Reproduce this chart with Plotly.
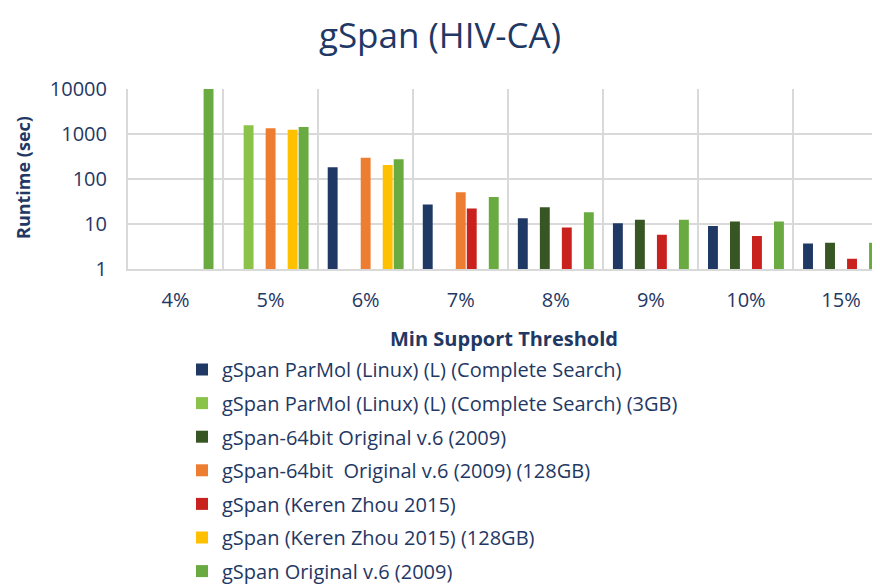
import plotly.graph_objects as go

categories = ["4%", "5%", "6%", "7%", "8%", "9%", "10%", "15%"]

series_names = [
    "gSpan ParMol (Linux) (L) (Complete Search)",
    "gSpan ParMol (Linux) (L) (Complete Search) (3GB)",
    "gSpan-64bit Original v.6 (2009)",
    "gSpan-64bit  Original v.6 (2009) (128GB)",
    "gSpan (Keren Zhou 2015)",
    "gSpan (Keren Zhou 2015) (128GB)",
    "gSpan Original v.6 (2009)",
]

parmol = [None, None, 182, 27, 13.4, 10.4, 9.0, 3.7]
parmol_3gb = [None, 1560, None, None, None, None, None, None]
gspan64 = [None, None, None, None, 23.5, 12.5, 11.3, 3.85]
gspan64_128 = [None, 1350, 297, 51, None, None, None, None]
zhou = [None, None, None, 22, 8.4, 5.8, 5.4, 1.7]
zhou_128 = [None, 1250, 204, None, None, None, None, None]
original = [10000, 1430, 273, 40, 18.2, 12.5, 11.3, 3.85]

series_values = [parmol, parmol_3gb, gspan64, gspan64_128, zhou, zhou_128, original]
colors = ["#1F3864", "#8BC34A", "#375623", "#ED7D31", "#C9211E", "#FFC000", "#6AAB41"]

y_tickvals = [1, 10, 100, 1000, 10000]
y_ticktext = ["1", "10", "100", "1000", "10000"]

FONT = "Open Sans"
NAVY = "#1F3864"
GRID = "#D9D9D9"
# page body has an 8px margin; figure fills the rest of the 880x588 window
OFF = 8
W, H = 880 - OFF, 588 - OFF
PLOT_L, PLOT_T, PLOT_B = 128, 89, 269

fig = go.Figure()
for i, (name, vals, col) in enumerate(zip(series_names, series_values, colors)):
    fig.add_trace(go.Bar(
        x=categories, y=vals, name=name, marker_color=col,
        marker_line_width=0, legendgroup=f"g{i}",
    ))

fig.update_layout(
    width=W, height=H,
    margin=dict(l=PLOT_L - OFF, r=0, t=PLOT_T - OFF, b=588 - PLOT_B, autoexpand=False),
    paper_bgcolor="white", plot_bgcolor="white",
    barmode="group", bargap=0.19, bargroupgap=0.1,
    font=dict(family=FONT, color=NAVY),
    title=dict(text="gSpan (HIV-CA)", x=(440 - OFF) / W, xref="container", xanchor="center",
               y=1 - (36 - OFF) / H, yanchor="middle",
               font=dict(size=35, color=NAVY, family=FONT)),
    showlegend=True,
    legend=dict(
        xref="container", yref="container",
        x=(182 - OFF) / W, y=1 - (350 - OFF) / H, xanchor="left", yanchor="top",
        traceorder="grouped", tracegroupgap=4.6,
        font=dict(size=20, color=NAVY, family=FONT),
        bgcolor="rgba(0,0,0,0)", itemwidth=30,
    ),
    annotations=[dict(
        text="<b>Runtime (sec)</b>", textangle=-90,
        xref="paper", yref="paper", x=0, y=0.5,
        xanchor="center", yanchor="middle",
        xshift=23 - PLOT_L, yshift=(PLOT_T + PLOT_B) / 2 - 178,
        showarrow=False, font=dict(size=18, color=NAVY, family=FONT),
    )],
)

fig.update_xaxes(
    type="category", range=[-0.5, 7.41],
    tickson="boundaries", showgrid=True, gridcolor=GRID, gridwidth=2,
    ticks="", ticklabelstandoff=12,
    tickfont=dict(size=20, color=NAVY),
    showline=True, linecolor=GRID, linewidth=2,
    title=dict(text="<b>Min Support Threshold</b>", standoff=20,
               font=dict(size=20, color=NAVY)),
    zeroline=False, automargin=True,
)
fig.update_yaxes(
    type="log", range=[0, 4],
    tickmode="array", tickvals=y_tickvals, ticktext=y_ticktext,
    showgrid=True, gridcolor=GRID, gridwidth=2,
    ticks="outside", ticklen=15, tickcolor="rgba(0,0,0,0)",
    tickfont=dict(size=20, color=NAVY),
    showline=True, linecolor=GRID, linewidth=2,
    zeroline=False,
)

fig.write_html("out.html")
